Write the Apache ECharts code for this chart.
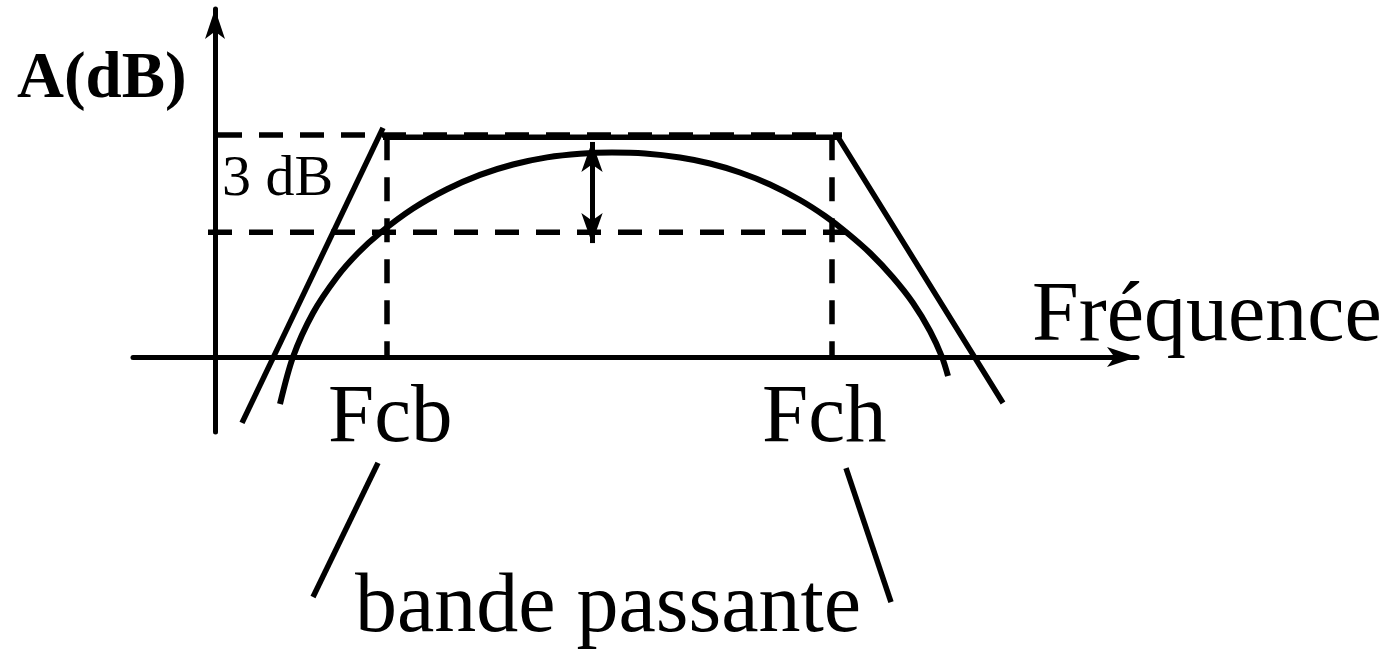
<!DOCTYPE html>
<html>
<head>
<meta charset="utf-8">
<script src="https://cdn.jsdelivr.net/npm/echarts@6/dist/echarts.min.js"></script>
<style>
  html, body { margin: 0; padding: 0; background: #fff; }
  #chart { width: 1398px; height: 651px; }
</style>
</head>
<body>
<div id="chart"></div>
<script>
  // x : fréquence (unités arbitraires), y : A en dB, 0 sur l'axe horizontal
  const refLevel = 6.9;          // niveau max du gabarit
  const cutLevel = refLevel - 3; // niveau -3 dB

  // gabarit (asymptotes)
  const asymptoteLow = [[2.7, -2.06], [16.8, 7.16]];
  const asymptoteHigh = [[16.8, 6.87], [62.3, 6.87], [78.8, -1.44]];

  // réponse réelle du filtre
  const responseCurve = [
    [6.5, -1.47], [7.8, 0], [9.8, 1.375], [12.2, 2.5], [14.3, 3.25], [16.5, 3.875],
    [19.8, 4.638], [23.2, 5.241], [26.5, 5.691], [29.8, 6.016], [33.2, 6.238], [36.5, 6.353],
    [39.7, 6.388], [43.0, 6.359], [46.5, 6.234], [49.5, 6.047], [52.5, 5.766], [55.5, 5.391],
    [58.5, 4.906], [61.0, 4.406], [63.1, 3.906], [65.5, 3.25], [67.8, 2.484], [69.8, 1.688],
    [71.5, 0.813], [72.7, 0], [73.3, -0.594],
  ];

  // repères en pointillés
  const refLine = [[0.3, refLevel + 0.04], [62.7, refLevel + 0.04]];
  const cutLine = [[-0.7, cutLevel], [64.7, cutLevel]];
  const fcbLine = [[17.2, refLevel], [17.2, 0]];
  const fchLine = [[61.7, refLevel], [61.7, 0]];

  // flèche des 3 dB
  const gapArrow = [[37.7, 6.72], [37.7, 3.56]];

  // traits vers « bande passante »
  const leaderLeft = [[16.3, -3.31], [9.8, -7.5]];
  const leaderRight = [[63.1, -3.47], [67.6, -7.66]];

  const labelTexts = ['A(dB)', '3 dB', 'Fréquence', 'Fcb', 'Fch', 'bande passante'];

  const chart = echarts.init(document.getElementById('chart'));

  const solid = (data, width = 5.5) => ({
    type: 'line',
    data,
    showSymbol: false,
    clip: false,
    silent: true,
    lineStyle: { color: '#000', width, cap: 'butt' },
  });

  const dashed = (data) => ({
    type: 'line',
    data,
    showSymbol: false,
    clip: false,
    silent: true,
    lineStyle: { color: '#000', width: 5.5, type: [24, 17], cap: 'butt' },
  });

  const serif = '"Liberation Serif", "Times New Roman", serif';
  const text = (str, x, y, size, weight = 'normal') => ({
    type: 'text',
    x,
    y,
    silent: true,
    style: {
      text: str,
      font: `${weight} ${size}px ${serif}`,
      fill: '#000',
      verticalAlign: 'middle',
    },
  });

  const axisStyle = {
    onZero: true,
    symbol: ['none', 'arrow'],
    symbolSize: [15, 30],
    lineStyle: { color: '#000', width: 5 },
  };

  const option = {
    animation: false,
    backgroundColor: '#fff',
    grid: { left: 133, right: 261, top: 9, bottom: 219 },
    xAxis: {
      type: 'value',
      min: -8.2,
      max: 92.2,
      axisLine: axisStyle,
      axisTick: { show: false },
      axisLabel: { show: false },
      splitLine: { show: false },
    },
    yAxis: {
      type: 'value',
      min: -2.344,
      max: 10.875,
      axisLine: axisStyle,
      axisTick: { show: false },
      axisLabel: { show: false },
      splitLine: { show: false },
    },
    series: [
      dashed(refLine),
      dashed(cutLine),
      dashed(fcbLine),
      dashed(fchLine),
      solid(asymptoteLow),
      solid(asymptoteHigh),
      { ...solid(responseCurve, 6), smooth: 0.3 },
      solid(leaderLeft),
      solid(leaderRight),
      {
        type: 'line',
        data: [],
        silent: true,
        markLine: {
          silent: true,
          symbol: ['arrow', 'arrow'],
          symbolSize: [16, 30],
          label: { show: false },
          lineStyle: { color: '#000', width: 5, type: 'solid' },
          data: [[{ coord: gapArrow[0] }, { coord: gapArrow[1] }]],
        },
      },
    ],
    graphic: [
      text(labelTexts[0], 17, 80, 65, 'bold'),
      text(labelTexts[1], 222, 180, 58),
      text(labelTexts[2], 1032, 318, 84),
      text(labelTexts[3], 328, 419, 83),
      text(labelTexts[4], 762, 419, 83),
      text(labelTexts[5], 355, 609, 84),
    ],
  };

  chart.setOption(option);
</script>
</body>
</html>
